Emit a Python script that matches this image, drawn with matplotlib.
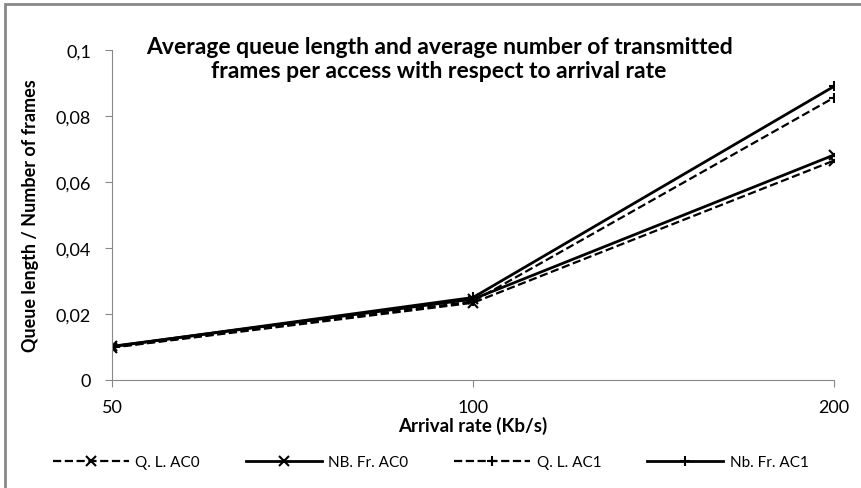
import matplotlib
matplotlib.use("Agg")
import matplotlib.pyplot as plt
from matplotlib.patches import Rectangle

plt.rcParams['font.family'] = ['Lato', 'DejaVu Sans']

# data
rates = ['50', '100', '200']
ql_ac0 = [0.0098, 0.0234, 0.0665]
nbfr_ac0 = [0.0102, 0.0245, 0.0682]
ql_ac1 = [0.0099, 0.0238, 0.0856]
nbfr_ac1 = [0.0101, 0.0250, 0.0890]
yticks = [0, 0.02, 0.04, 0.06, 0.08, 0.1]
ylabels = ['0', '0,02', '0,04', '0,06', '0,08', '0,1']

fig = plt.figure(figsize=(8.61, 4.89), dpi=100)
# outer chart frame
fig.patches.append(Rectangle((5/861, -0.05), 1.1, 1 - 5/489 + 0.05, transform=fig.transFigure,
                             fill=False, edgecolor='#888888', lw=2))
ax = fig.add_axes([0.130, 0.2209, 0.8388, 0.6748])

x = range(len(rates))
ax.plot(x, ql_ac0, color='black', ls='--', lw=1.6, marker='x', ms=7, mew=1.5, label='Q. L. AC0')
ax.plot(x, nbfr_ac0, color='black', ls='-', lw=2.0, marker='x', ms=7, mew=1.5, label='NB. Fr. AC0')
ax.plot(x, ql_ac1, color='black', ls='--', lw=1.6, marker='+', ms=7, mew=1.5, label='Q. L. AC1')
ax.plot(x, nbfr_ac1, color='black', ls='-', lw=2.0, marker='+', ms=7, mew=1.5, label='Nb. Fr. AC1')

ax.set_xlim(0, 2)
ax.set_ylim(0, 0.1)
ax.set_xticks(list(x))
ax.set_xticklabels(rates)
ax.set_yticks(yticks)
ax.set_yticklabels(ylabels)
for s in ['top', 'right']:
    ax.spines[s].set_visible(False)
for s in ['left', 'bottom']:
    ax.spines[s].set_color('#888888')
ax.tick_params(axis='both', colors='#888888', labelcolor='black', labelsize=13, length=5)
ax.tick_params(axis='x', pad=9)
ax.tick_params(axis='y', pad=10)

ax.set_xlabel('Arrival rate (Kb/s)', fontsize=13.5, fontweight='bold', labelpad=0)
ax.set_ylabel('Queue length / Number of frames', fontsize=13, fontweight='bold', labelpad=12)
fig.text(0.51, 0.878, 'Average queue length and average number of transmitted\nframes per access with respect to arrival rate',
         ha='center', va='center', fontsize=16.5, fontweight='bold', linespacing=1.2)

fig.legend(loc='center', bbox_to_anchor=(0.50, 0.053), ncol=4, frameon=False, fontsize=11,
           handlelength=5, columnspacing=3.0, handletextpad=0.4)

fig.savefig('out.png', dpi=100)
